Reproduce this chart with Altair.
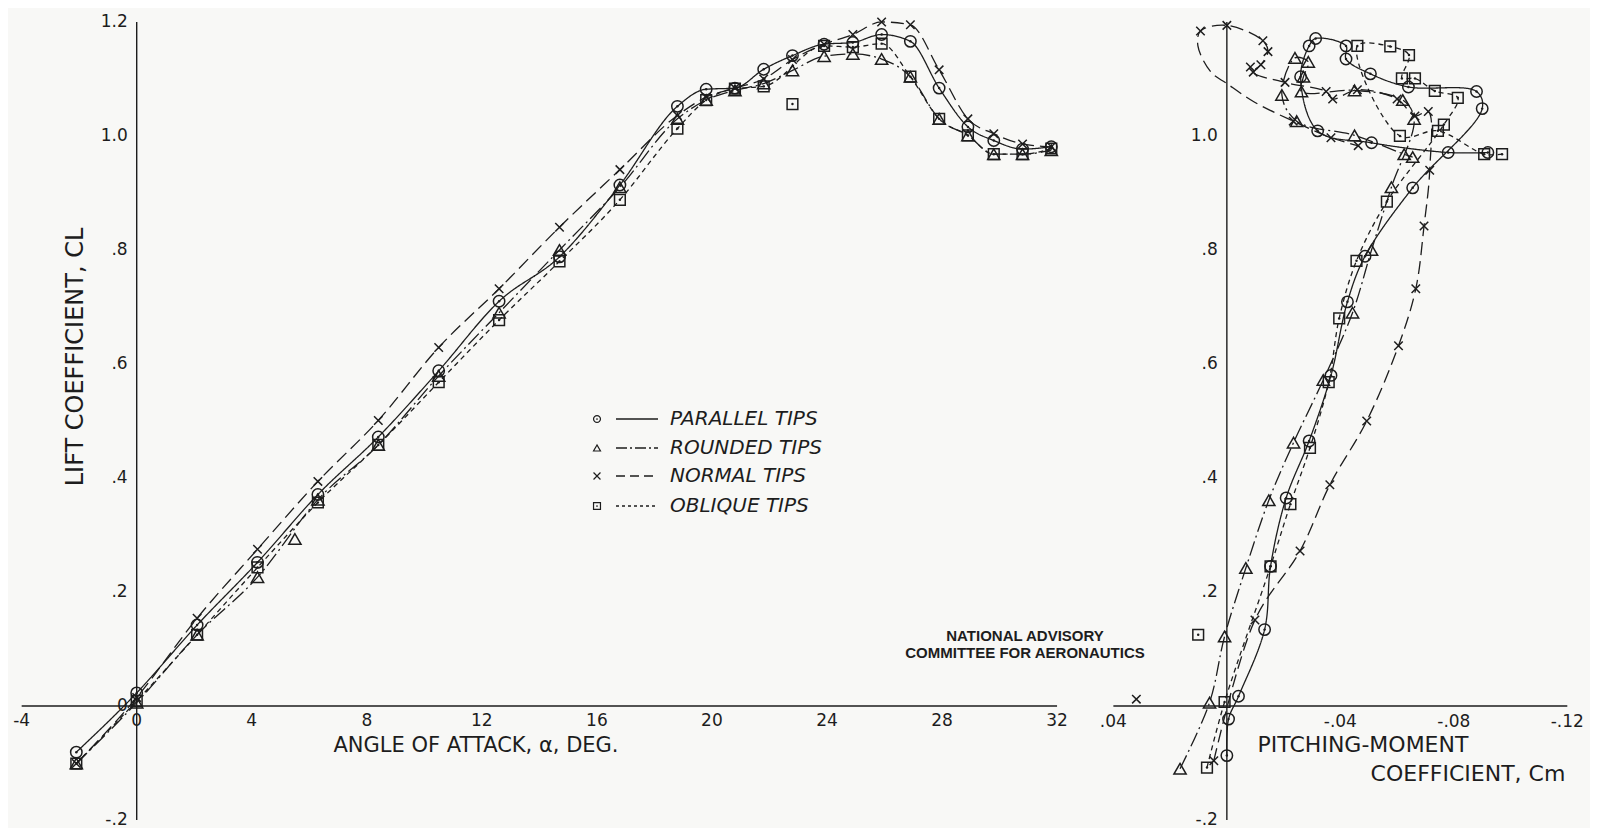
import altair as alt
import pandas as pd

INK = "#1d1d1d"
BG = "#f8f8f6"
FONT = "DejaVu Sans"

# ---------------- left panel: lift coefficient vs angle of attack ----------------
alpha_parallel = [-2.1, 0.0, 2.1, 4.2, 6.3, 8.4, 10.5, 12.6, 14.7, 16.8, 18.8, 19.8, 20.8, 21.8,
                  22.8, 23.9, 24.9, 25.9, 26.9, 27.9, 28.9, 29.8, 30.8, 31.8]
cl_parallel = [-0.081, 0.023, 0.142, 0.252, 0.371, 0.472, 0.588, 0.710, 0.788, 0.914, 1.052, 1.082,
               1.084, 1.117, 1.141, 1.161, 1.164, 1.178, 1.166, 1.084, 1.016, 0.992, 0.977, 0.981]

alpha_rounded = [-2.1, 0.0, 2.1, 4.2, 6.3, 8.4, 10.5, 12.6, 14.7, 16.8, 18.8, 19.8, 20.8, 21.8,
                 22.8, 23.9, 24.9, 25.9, 26.9, 27.9, 28.9, 29.8, 30.8, 31.8]
cl_rounded = [-0.101, 0.006, 0.125, 0.226, 0.362, 0.458, 0.579, 0.690, 0.800, 0.910, 1.030, 1.063,
              1.080, 1.092, 1.115, 1.140, 1.144, 1.135, 1.104, 1.030, 1.001, 0.968, 0.968, 0.975]
alpha_rounded_extra = [5.5]
cl_rounded_extra = [0.293]

alpha_normal = [-2.1, 0.0, 2.1, 4.2, 6.3, 8.4, 10.5, 12.6, 14.7, 16.8, 18.8, 19.8, 20.8, 21.8,
                22.8, 23.9, 24.9, 25.9, 26.9, 27.9, 28.9, 29.8, 30.8, 31.8]
cl_normal = [-0.101, 0.015, 0.154, 0.275, 0.394, 0.501, 0.629, 0.732, 0.840, 0.941, 1.036, 1.068,
             1.084, 1.100, 1.134, 1.161, 1.178, 1.200, 1.195, 1.116, 1.030, 1.004, 0.986, 0.981]

alpha_oblique = [-2.1, 0.0, 2.1, 4.2, 6.3, 8.4, 10.5, 12.6, 14.7, 16.8, 18.8, 19.8, 20.8, 21.8,
                 23.9, 24.9, 25.9, 26.9, 27.9, 28.9, 29.8, 30.8, 31.8]
cl_oblique = [-0.101, 0.009, 0.125, 0.243, 0.357, 0.458, 0.568, 0.677, 0.780, 0.888, 1.013, 1.063,
              1.083, 1.087, 1.158, 1.156, 1.162, 1.104, 1.030, 1.001, 0.968, 0.968, 0.978]
alpha_oblique_extra = [22.8]
cl_oblique_extra = [1.056]

# ---------------- right panel: lift coefficient vs pitching-moment coefficient ----------------
cm_parallel = [0.0, -0.0006, -0.0041, -0.0133, -0.0154, -0.0209, -0.0290, -0.0367, -0.0425, -0.0487,
               -0.0655, -0.0900, -0.0880, -0.0640, -0.0506, -0.0420, -0.0420, -0.0313, -0.0290,
               -0.0260, -0.0320, -0.0510, -0.0780, -0.0920]
clm_parallel = [-0.087, -0.023, 0.017, 0.134, 0.245, 0.365, 0.465, 0.580, 0.709, 0.789, 0.909,
                1.048, 1.078, 1.086, 1.109, 1.135, 1.158, 1.171, 1.158, 1.104, 1.009, 0.988, 0.971, 0.971]

cm_rounded = [0.0165, 0.0061, 0.0008, -0.0067, -0.0148, -0.0235, -0.0340, -0.0443, -0.0510, -0.0580,
              -0.0660, -0.0620, -0.0450, -0.0263, -0.0270, -0.0287, -0.0240, -0.0194, -0.0246,
              -0.0450, -0.0625, -0.0655]
clm_rounded = [-0.110, 0.006, 0.122, 0.242, 0.361, 0.462, 0.572, 0.690, 0.800, 0.910, 1.030, 1.063,
               1.080, 1.078, 1.104, 1.130, 1.137, 1.072, 1.026, 1.001, 0.968, 0.963]

cm_normal = [0.0046, -0.0099, -0.0258, -0.0363, -0.0493, -0.0605, -0.0666, -0.0695, -0.0715, -0.0710,
             -0.0663, -0.0600, -0.0460, -0.0373, -0.0350, -0.0205, -0.0093, -0.0120, -0.0145, -0.0127,
             0.0, 0.0093, -0.0083, -0.0234, -0.0367, -0.0463]
clm_normal = [-0.096, 0.151, 0.272, 0.388, 0.500, 0.632, 0.732, 0.842, 0.940, 1.043, 1.035, 1.065,
              1.081, 1.065, 1.078, 1.094, 1.112, 1.125, 1.148, 1.167, 1.194, 1.184, 1.121, 1.026,
              0.997, 0.983]
cm_normal_extra = [0.0319]
clm_normal_extra = [0.012]
# faired curve of the normal tips (passes round a loop after the stall)
cm_normal_curve = [0.0046, -0.0099, -0.0258, -0.0363, -0.0493, -0.0605, -0.0666, -0.0695, -0.0715,
                   -0.0710, -0.0663, -0.0600, -0.0460, -0.0373, -0.0350, -0.0205, -0.0093, -0.0120,
                   -0.0145, -0.0127, 0.0, 0.0093, 0.0102, 0.0056, 0.0, -0.0095, -0.0234, -0.0367, -0.0463]
clm_normal_curve = [-0.096, 0.151, 0.272, 0.388, 0.500, 0.632, 0.732, 0.842, 0.940, 1.043, 1.035,
                    1.065, 1.081, 1.065, 1.078, 1.094, 1.112, 1.125, 1.148, 1.167, 1.194, 1.184,
                    1.158, 1.112, 1.092, 1.060, 1.026, 0.997, 0.983]

cm_oblique = [0.0070, 0.0008, -0.0154, -0.0224, -0.0293, -0.0359, -0.0396, -0.0457, -0.0564, -0.0765,
              -0.0814, -0.0733, -0.0663, -0.0617, -0.0642, -0.0576, -0.0460, -0.0610, -0.0744,
              -0.0907, -0.0970]
clm_oblique = [-0.108, 0.007, 0.245, 0.354, 0.453, 0.568, 0.680, 0.781, 0.885, 1.020, 1.067, 1.079,
               1.101, 1.101, 1.142, 1.157, 1.158, 1.000, 1.009, 0.968, 0.968]
cm_oblique_extra = [0.0101]
clm_oblique_extra = [0.125]

# ---------------- ticks ----------------
left_x_ticks = [-4, 0, 4, 8, 12, 16, 20, 24, 28, 32]
left_x_labels = ["-4", "0", "4", "8", "12", "16", "20", "24", "28", "32"]
left_y_ticks = [-0.2, 0.0, 0.2, 0.4, 0.6, 0.8, 1.0, 1.2]
left_y_labels = ["-.2", "0", ".2", ".4", ".6", ".8", "1.0", "1.2"]
right_x_ticks = [0.04, -0.04, -0.08, -0.12]
right_x_labels = [".04", "-.04", "-.08", "-.12"]
right_y_ticks = [-0.2, 0.2, 0.4, 0.6, 0.8, 1.0]
right_y_labels = ["-.2", ".2", ".4", ".6", ".8", "1.0"]
cl_axis_span = [-0.2, 1.2]

series_names = ["PARALLEL TIPS", "ROUNDED TIPS", "NORMAL TIPS", "OBLIQUE TIPS"]

# ---------------- styling / layout ----------------
XPATH = "M-1,-1L1,1M-1,1L1,-1"
STYLE = {
    "PARALLEL TIPS": dict(shape="circle", size=130, dash=[1, 0], dot=True),
    "ROUNDED TIPS": dict(shape="triangle-up", size=150, dash=[15, 4, 2, 4], dot=False),
    "NORMAL TIPS": dict(shape=XPATH, size=72, dash=[13, 6], dot=False),
    "OBLIQUE TIPS": dict(shape="square", size=115, dash=[5, 4], dot=True),
}
LEGEND_DASH = {
    "PARALLEL TIPS": [1, 0],
    "ROUNDED TIPS": [11, 3, 2, 3],
    "NORMAL TIPS": [9, 5],
    "OBLIQUE TIPS": [3, 3],
}

W_L, W_R, H = 1062, 505, 812
LX = alt.Scale(domain=[-4.475, 32.45], nice=False, zero=False)
LY = alt.Scale(domain=[-0.2, 1.2245], nice=False, zero=False)
RX = alt.Scale(domain=[-0.128, 0.05], reverse=True, nice=False, zero=False)
RY = LY


def enc_x(sc, f="x"):
    return alt.X(f"{f}:Q", scale=sc, axis=None)


def enc_y(sc, f="y"):
    return alt.Y(f"{f}:Q", scale=sc, axis=None)


def series_layers(xs, ys, ex, ey, lx, ly, st, xsc, ysc, interp):
    line_df = pd.DataFrame({"x": lx, "y": ly, "i": list(range(len(lx)))})
    pts_df = pd.DataFrame({"x": list(xs) + list(ex), "y": list(ys) + list(ey)})
    out = [
        alt.Chart(line_df).mark_line(interpolate=interp, color=INK, strokeWidth=1.3,
                                     strokeDash=st["dash"], clip=False).encode(
            x=enc_x(xsc), y=enc_y(ysc), order="i:Q"),
        alt.Chart(pts_df).mark_point(shape=st["shape"], size=st["size"], filled=False, color=INK,
                                     strokeWidth=1.5, opacity=1).encode(x=enc_x(xsc), y=enc_y(ysc)),
    ]
    if st["dot"]:
        out.append(alt.Chart(pts_df).mark_point(shape="circle", size=6, filled=True, color=INK,
                                                opacity=1).encode(x=enc_x(xsc), y=enc_y(ysc)))
    return out


def axis_layers(xsc, ysc, xt, xl, yt, yl, y_dx, x_dy):
    xa = pd.DataFrame({"x": [min(xt)], "x2": [max(xt)], "y": [0.0]})
    ya = pd.DataFrame({"x": [0.0], "y": [cl_axis_span[0]], "y2": [cl_axis_span[1]]})
    xlab = pd.DataFrame({"x": xt, "y": [0.0] * len(xt), "lab": xl})
    ylab = pd.DataFrame({"x": [0.0] * len(yt), "y": yt, "lab": yl})
    return [
        alt.Chart(xa).mark_rule(color=INK, strokeWidth=1.4).encode(
            x=enc_x(xsc), x2="x2:Q", y=enc_y(ysc)),
        alt.Chart(ya).mark_rule(color=INK, strokeWidth=1.4).encode(
            x=enc_x(xsc), y=enc_y(ysc), y2="y2:Q"),
        alt.Chart(xlab).mark_text(font=FONT, fontSize=17, color=INK, baseline="middle",
                                  align="center", dy=x_dy).encode(
            x=enc_x(xsc), y=enc_y(ysc), text="lab:N"),
        alt.Chart(ylab).mark_text(font=FONT, fontSize=17, color=INK, baseline="middle",
                                  align="right", dx=y_dx).encode(
            x=enc_x(xsc), y=enc_y(ysc), text="lab:N"),
    ]


def label(txt, x, y, size=20, angle=0, style="normal", weight="normal", font=FONT, align="center"):
    return alt.Chart(pd.DataFrame({"t": [txt]})).mark_text(
        font=font, fontSize=size, angle=angle, fontStyle=style, fontWeight=weight,
        color=INK, align=align, baseline="middle").encode(
        x=alt.value(x), y=alt.value(y), text="t:N")


# ---------------- left panel ----------------
left_data = {
    "PARALLEL TIPS": (alpha_parallel, cl_parallel, [], []),
    "ROUNDED TIPS": (alpha_rounded, cl_rounded, alpha_rounded_extra, cl_rounded_extra),
    "NORMAL TIPS": (alpha_normal, cl_normal, [], []),
    "OBLIQUE TIPS": (alpha_oblique, cl_oblique, alpha_oblique_extra, cl_oblique_extra),
}
left_layers = axis_layers(LX, LY, left_x_ticks, left_x_labels, left_y_ticks, left_y_labels, -9, 15)
for name in series_names:
    xs, ys, ex, ey = left_data[name]
    left_layers += series_layers(xs, ys, ex, ey, xs, ys, STYLE[name], LX, LY, "monotone")

# legend
rows_y = [411, 440, 468, 498]
for name, ry in zip(series_names, rows_y):
    st = STYLE[name]
    left_layers.append(
        alt.Chart(pd.DataFrame({"t": [name]})).mark_point(
            shape=st["shape"], size=48, filled=False, color=INK, strokeWidth=1.2, opacity=1).encode(
            x=alt.value(589), y=alt.value(ry)))
    if st["dot"]:
        left_layers.append(
            alt.Chart(pd.DataFrame({"t": [name]})).mark_point(
                shape="circle", size=3, filled=True, color=INK, opacity=1).encode(
                x=alt.value(589), y=alt.value(ry)))
    left_layers.append(
        alt.Chart(pd.DataFrame({"t": [name]})).mark_rule(
            color=INK, strokeWidth=1.4, strokeDash=LEGEND_DASH[name]).encode(
            x=alt.value(608), x2=alt.value(650), y=alt.value(ry)))
    left_layers.append(label(name, 662, ry, size=20, style="italic", align="left"))

left_layers += [
    label("LIFT COEFFICIENT, CL", 68, 349, size=24, angle=270),
    label("ANGLE OF ATTACK, \u03b1, DEG.", 468, 738, size=21),
    label("NATIONAL ADVISORY", 1017, 628, size=15, weight="bold", font="Liberation Sans"),
    label("COMMITTEE FOR AERONAUTICS", 1017, 645, size=15, weight="bold", font="Liberation Sans"),
]
left = alt.layer(*left_layers).properties(width=W_L, height=H)

# ---------------- right panel ----------------
right_data = {
    "PARALLEL TIPS": (cm_parallel, clm_parallel, [], [], cm_parallel, clm_parallel),
    "ROUNDED TIPS": (cm_rounded, clm_rounded, [], [], cm_rounded, clm_rounded),
    "NORMAL TIPS": (cm_normal, clm_normal, cm_normal_extra, clm_normal_extra,
                    cm_normal_curve, clm_normal_curve),
    "OBLIQUE TIPS": (cm_oblique, clm_oblique, cm_oblique_extra, clm_oblique_extra,
                     cm_oblique, clm_oblique),
}
right_layers = axis_layers(RX, RY, right_x_ticks, right_x_labels, right_y_ticks, right_y_labels, -9, 16)
for name in series_names:
    xs, ys, ex, ey, lx, ly = right_data[name]
    right_layers += series_layers(xs, ys, ex, ey, lx, ly, STYLE[name], RX, RY, "catmull-rom")

right_layers += [
    label("PITCHING-MOMENT", 278, 737, size=22),
    label("COEFFICIENT, Cm", 383, 766, size=22),
]
right = alt.layer(*right_layers).properties(width=W_R, height=H)

chart = (
    alt.hconcat(left, right, spacing=15, bounds="flush")
    .properties(padding=0, background=BG)
    .configure_view(stroke=None)
)

chart.save("out.html", embed_options={"renderer": "svg", "actions": False})
